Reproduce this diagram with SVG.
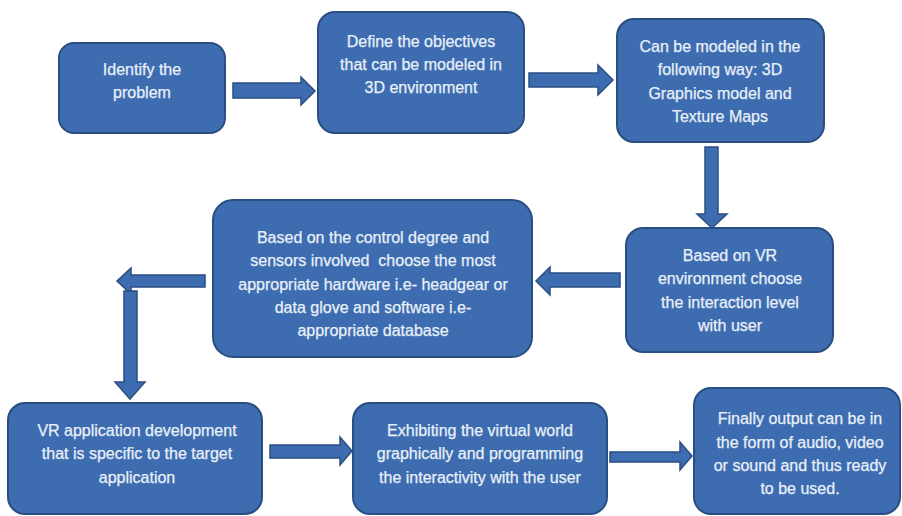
<svg xmlns="http://www.w3.org/2000/svg" width="902" height="516" viewBox="0 0 902 516">
<style>
.box{fill:#3D6DB0;stroke:#2A4E82;stroke-width:2}
.arr{fill:#3D6DB0;stroke:#2A4E82;stroke-width:1.5;stroke-linejoin:miter}
text{font-family:"Liberation Sans",Arial,sans-serif;font-size:16px;fill:#EAF0F8;text-anchor:middle;stroke:#EAF0F8;stroke-width:0.25}
</style>
<rect width="902" height="516" fill="#ffffff"/>
<g id="connectors">
<polygon class="arr" points="233,83 301,83 301,77 315,91 301,105 301,98 233,98"/>
<polygon class="arr" points="529,73 598,73 598,65 613,80 598,95 598,87 529,87"/>
<polygon class="arr" points="705,147 718,147 718,214 727,214 712,228 697,214 705,214"/>
<polygon class="arr" points="620,273 550,273 550,267 536,281 550,295 550,287 620,287"/>
<polygon class="arr" points="205,275 131,275 131,268 117,281 131,294 131,287 205,287"/>
<polygon class="arr" points="124,291 137,291 137,382 145,382 130,399 115,382 124,382"/>
<polygon class="arr" points="270,445 340,445 340,437 352,451 340,465 340,458 270,458"/>
<polygon class="arr" points="610,452 680,452 680,442 692,456 680,470 680,462 610,462"/>
</g>
<g id="n1">
<rect class="box" x="59" y="43" width="166" height="90" rx="15"/>
<text x="142" y="75">Identify the</text>
<text x="142" y="98">problem</text>
</g>
<g id="n2">
<rect class="box" x="318" y="12" width="206" height="121" rx="17"/>
<text x="421" y="47">Define the objectives</text>
<text x="421" y="70">that can be modeled in</text>
<text x="421" y="93">3D environment</text>
</g>
<g id="n3">
<rect class="box" x="617" y="19" width="207" height="123" rx="17"/>
<text x="720" y="52">Can be modeled in the</text>
<text x="720" y="75">following way: 3D</text>
<text x="720" y="99">Graphics model and</text>
<text x="720" y="122">Texture Maps</text>
</g>
<g id="n4">
<rect class="box" x="626" y="228" width="207" height="124" rx="17"/>
<text x="730" y="261">Based on VR</text>
<text x="730" y="284">environment choose</text>
<text x="730" y="308">the interaction level</text>
<text x="730" y="331">with user</text>
</g>
<g id="n5">
<rect class="box" x="213" y="200" width="319" height="157" rx="20"/>
<text x="373" y="243">Based on the control degree and</text>
<text x="373" y="266" xml:space="preserve">sensors involved  choose the most</text>
<text x="373" y="290">appropriate hardware i.e- headgear or</text>
<text x="373" y="313">data glove and software i.e-</text>
<text x="373" y="336">appropriate database</text>
</g>
<g id="n6">
<rect class="box" x="8" y="403" width="254" height="111" rx="17"/>
<text x="137" y="436">VR application development</text>
<text x="137" y="459">that is specific to the target</text>
<text x="137" y="483">application</text>
</g>
<g id="n7">
<rect class="box" x="353" y="403" width="254" height="111" rx="17"/>
<text x="480" y="436">Exhibiting the virtual world</text>
<text x="480" y="459">graphically and programming</text>
<text x="480" y="483">the interactivity with the user</text>
</g>
<g id="n8">
<rect class="box" x="694" y="388" width="206" height="126" rx="17"/>
<text x="800" y="424">Finally output can be in</text>
<text x="800" y="448">the form of audio, video</text>
<text x="800" y="471">or sound and thus ready</text>
<text x="800" y="494">to be used.</text>
</g>
</svg>
